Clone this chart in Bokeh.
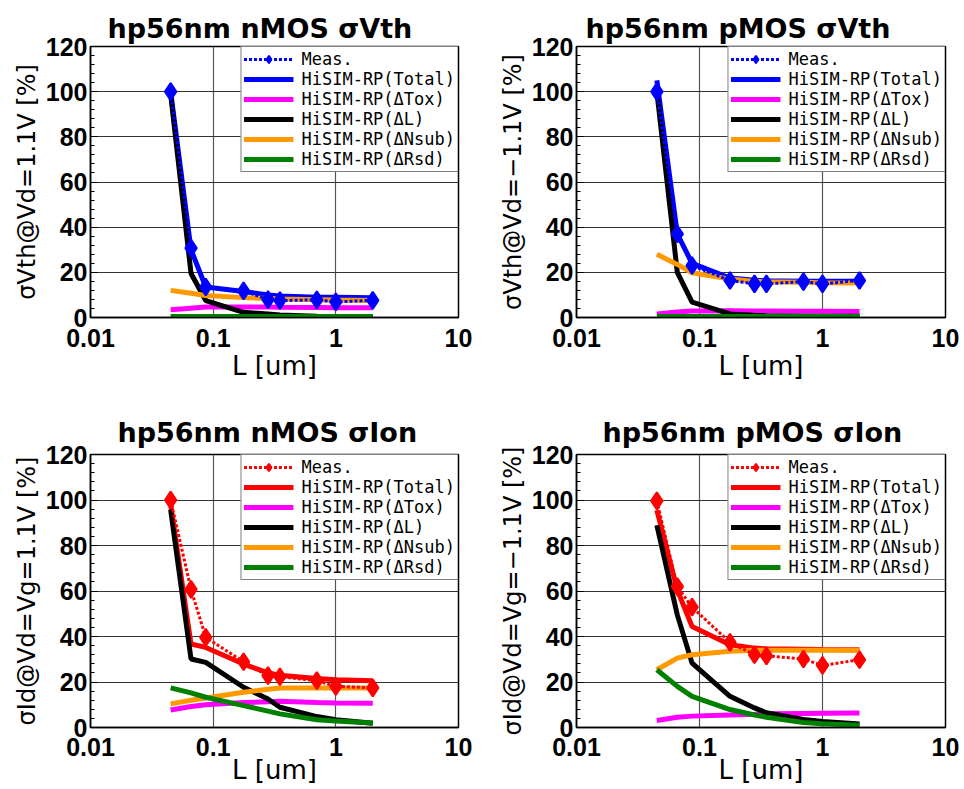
from bokeh.plotting import figure
from bokeh.layouts import gridplot
from bokeh.models import (Legend, LegendItem, SingleIntervalTicker, FixedTicker,
                          CustomJSTickFormatter, Range1d)
from bokeh.embed import file_html
from bokeh.resources import INLINE

# ---------------- data ----------------
L_um = [0.045, 0.066, 0.087, 0.177, 0.28, 0.35, 0.7, 1.0, 2.0]
x_ticks = [0.01, 0.1, 1, 10]
legend_labels = ["Meas.", "HiSIM-RP(Total)", "HiSIM-RP(ΔTox)", "HiSIM-RP(ΔL)",
                 "HiSIM-RP(ΔNsub)", "HiSIM-RP(ΔRsd)"]

# nMOS sigma Vth
n_vth_meas = [100, 30.7, 13.5, 11.8, 7.9, 7.5, 7.8, 6.9, 7.6]
n_vth_total = [100, 30, 13.5, 11.5, 10, 9.5, 9, 9, 8.8]
n_vth_tox = [3.4, 4.1, 4.6, 4.7, 4.6, 4.5, 4.4, 4.3, 4.3]
n_vth_dl = [99, 19.5, 7.5, 2.3, 1.5, 1.1, 0.6, 0.4, 0.3]
n_vth_nsub = [12, 10.7, 9.7, 8.8, 8.4, 8.2, 7.9, 7.7, 7.5]
n_vth_rsd = [0.4, 0.4, 0.4, 0.4, 0.4, 0.4, 0.4, 0.4, 0.4]

# pMOS sigma Vth
p_vth_meas = [100, 37, 23, 16.4, 14.9, 14.9, 15.9, 14.9, 16.4]
p_vth_total = [105, 37, 24, 17.5, 16.5, 16.3, 16, 16, 16]
p_vth_tox = [1.6, 2.4, 2.9, 3.0, 2.9, 2.9, 2.8, 2.8, 2.7]
p_vth_dl = [100, 20, 6.8, 1.6, 1.0, 0.8, 0.6, 0.5, 0.5]
p_vth_nsub = [28, 23.5, 19.8, 17, 16, 15.8, 15.6, 15.4, 15.3]
p_vth_rsd = [0.4, 0.4, 0.4, 0.4, 0.4, 0.4, 0.4, 0.4, 0.4]

# nMOS sigma Ion
n_ion_meas = [100, 60.7, 39.6, 28.9, 22.8, 22.3, 20.6, 18.1, 17.4]
n_ion_total = [98, 36.7, 35.2, 27.9, 24, 23, 21.5, 21, 20.5]
n_ion_tox = [7.7, 9.2, 10, 11, 11.3, 11.5, 11, 10.8, 10.7]
n_ion_dl = [95.8, 30.1, 28.6, 17.7, 12.5, 8.9, 4.8, 3.4, 1.9]
n_ion_nsub = [10.4, 12, 13, 15.5, 16.8, 17.4, 17.4, 17.4, 17.4]
n_ion_rsd = [17.4, 15.2, 13.3, 9.6, 7.2, 6, 3.4, 2.9, 2.0]

# pMOS sigma Ion
p_ion_meas = [99.6, 61.9, 52.9, 37.4, 32.0, 31.5, 30.1, 27.3, 29.8]
p_ion_total = [95.5, 60.4, 44.4, 36.4, 34.9, 34.6, 34.4, 34.3, 34.2]
p_ion_tox = [3.1, 4.5, 5, 5.5, 5.8, 6, 6.2, 6.3, 6.4]
p_ion_dl = [88.9, 49.5, 28.3, 13.7, 8.6, 6.5, 3.5, 2.6, 1.5]
p_ion_nsub = [25.4, 30.5, 32, 33.5, 34, 34, 34, 34, 34]
p_ion_rsd = [25.4, 18.1, 13.7, 7.9, 5.5, 4.5, 2.2, 1.6, 1.0]

TOX_C, DL_C, NSUB_C, RSD_C = "#ff00ff", "#000000", "#ff9900", "#008000"


def panel(title, ylabel, meas, total, tox, dl, nsub, rsd, color,
          w, h, bl, br, bt, bb, toff, tstand, xls, xlabs):
    p = figure(width=w, height=h, x_axis_type="log",
               x_range=Range1d(0.01, 10), y_range=Range1d(0, 120),
               output_backend="svg", toolbar_location=None,
               min_border_left=bl, min_border_right=br,
               min_border_top=bt, min_border_bottom=bb,
               background_fill_color="white", border_fill_color="white")
    p.title.text = title
    p.title.align = "left"
    p.title.offset = toff
    p.title.text_font = "DejaVu Sans"
    p.title.text_font_style = "bold"
    p.title.text_font_size = "27px"
    p.title.text_color = "black"
    p.title.standoff = tstand

    p.outline_line_color = "black"
    p.outline_line_width = 1.5

    p.xaxis.ticker = FixedTicker(ticks=x_ticks, minor_ticks=[])
    p.xaxis.formatter = CustomJSTickFormatter(code="return tick.toString();")
    p.yaxis.ticker = SingleIntervalTicker(interval=20, num_minor_ticks=5)
    for ax in (p.xaxis, p.yaxis):
        ax.axis_line_color = "black"
        ax.axis_line_width = 1.5
        ax.major_tick_out = 0
        ax.major_tick_in = 7
        ax.minor_tick_out = 0
        ax.minor_tick_in = 4
        ax.major_tick_line_color = "black"
        ax.minor_tick_line_color = "black"
        ax.major_label_text_font = "Liberation Sans"
        ax.major_label_text_font_style = "bold"
        ax.major_label_text_font_size = "25px"
        ax.major_label_text_color = "black"
        ax.axis_label_text_font = "DejaVu Sans"
        ax.axis_label_text_font_style = "normal"
        ax.axis_label_text_color = "black"
    p.xaxis.major_tick_in = 0
    p.xaxis.major_label_standoff = xls
    p.xaxis.axis_label = "L [um]"
    p.xaxis.axis_label_text_font_size = "26px"
    p.xaxis.axis_label_standoff = xlabs
    p.yaxis.major_label_standoff = 3
    p.yaxis.axis_label = ylabel
    p.yaxis.axis_label_text_font_size = "24px"
    p.yaxis.axis_label_standoff = 2

    p.xgrid.grid_line_color = "#555555"
    p.xgrid.grid_line_width = 1.2
    p.ygrid.grid_line_color = "#333333"
    p.ygrid.grid_line_width = 1.2

    r_tot = p.line(L_um, total, line_color=color, line_width=5)
    r_tox = p.line(L_um, tox, line_color=TOX_C, line_width=5)
    r_dl = p.line(L_um, dl, line_color=DL_C, line_width=5)
    r_nsub = p.line(L_um, nsub, line_color=NSUB_C, line_width=5)
    r_rsd = p.line(L_um, rsd, line_color=RSD_C, line_width=5)
    r_ml = p.line(L_um, meas, line_color=color, line_width=3, line_dash="3 2")
    r_ms = p.scatter(L_um, meas, marker="diamond", size=17, line_width=2,
                     fill_color=color, line_color=color)

    items = [
        LegendItem(label=legend_labels[0], renderers=[r_ml, r_ms]),
        LegendItem(label=legend_labels[1], renderers=[r_tot]),
        LegendItem(label=legend_labels[2], renderers=[r_tox]),
        LegendItem(label=legend_labels[3], renderers=[r_dl]),
        LegendItem(label=legend_labels[4], renderers=[r_nsub]),
        LegendItem(label=legend_labels[5], renderers=[r_rsd]),
    ]
    leg = Legend(items=items, location="top_right", margin=0, padding=2,
                 spacing=0, glyph_width=50, glyph_height=18, label_height=18,
                 label_standoff=8, label_text_font="DejaVu Sans Mono",
                 label_text_font_size="17px", label_text_color="black",
                 border_line_color="black", border_line_width=1.2,
                 background_fill_color="white", background_fill_alpha=1.0)
    p.add_layout(leg)
    return p


p1 = panel("hp56nm nMOS σVth", "σVth@Vd=1.1V [%]",
           n_vth_meas, n_vth_total, n_vth_tox, n_vth_dl, n_vth_nsub, n_vth_rsd,
           "#0000ff", 482, 394, 90, 24, 46, 77, 17, 6, 11, 1)
p2 = panel("hp56nm pMOS σVth", "σVth@Vd=−1.1V [%]",
           p_vth_meas, p_vth_total, p_vth_tox, p_vth_dl, p_vth_nsub, p_vth_rsd,
           "#0000ff", 482, 394, 94, 19, 46, 77, 9, 6, 11, 1)
p3 = panel("hp56nm nMOS σIon", "σId@Vd=Vg=1.1V [%]",
           n_ion_meas, n_ion_total, n_ion_tox, n_ion_dl, n_ion_nsub, n_ion_rsd,
           "#ff0000", 482, 395, 90, 24, 59, 62, 27, 13, 10, -4)
p4 = panel("hp56nm pMOS σIon", "σId@Vd=Vg=−1.1V [%]",
           p_ion_meas, p_ion_total, p_ion_tox, p_ion_dl, p_ion_nsub, p_ion_rsd,
           "#ff0000", 482, 395, 94, 19, 60, 61, 26, 13, 10, -4)

grid = gridplot([[p1, p2], [p3, p4]], toolbar_location=None)

open("out.html", "w").write(file_html(grid, INLINE))
